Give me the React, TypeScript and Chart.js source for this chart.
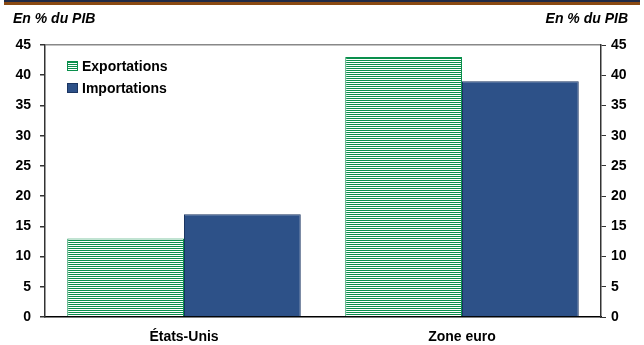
import React, { useEffect, useRef } from "react";
import { Chart, registerables } from "chart.js";

Chart.register(...registerables);

const categories = ["États-Unis", "Zone euro"];
const exportations = [13, 43];
const importations = [17, 39];
const seriesLabels = ["Exportations", "Importations"];
const unitLabel = "En % du PIB";
const yMin = 0;
const yMax = 45;
const yStep = 5;

const FONT = "'Liberation Sans', Arial, sans-serif";
const GREEN = "#0a8f4c";
const NAVY = "#2d5188";
const NAVY_BORDER = "#1b3562";

function makeStripe(): CanvasPattern | string {
  const c = document.createElement("canvas");
  c.width = 4;
  c.height = 2;
  const g = c.getContext("2d");
  if (!g) return GREEN;
  g.fillStyle = "#ffffff";
  g.fillRect(0, 0, 4, 2);
  g.fillStyle = GREEN;
  g.fillRect(0, 0, 4, 1);
  const p = g.createPattern(c, "repeat");
  return p || GREEN;
}

const decorPlugin = {
  id: "decor",
  afterDraw(chart: any) {
    const ctx = chart.ctx as CanvasRenderingContext2D;
    const w = chart.width;
    ctx.save();
    // top strip
    ctx.fillStyle = "#1f2b47";
    ctx.fillRect(4, 0, w - 8, 2);
    ctx.fillStyle = "#8a4a12";
    ctx.fillRect(4, 2, w - 8, 3);
    // unit labels
    ctx.fillStyle = "#000";
    ctx.font = `italic bold 14px ${FONT}`;
    ctx.textBaseline = "middle";
    ctx.textAlign = "left";
    ctx.fillText(unitLabel, 13, 19);
    ctx.textAlign = "right";
    ctx.fillText(unitLabel, 628, 19);
    // legend
    const items = [
      { label: seriesLabels[0], fill: chart.data.datasets[0].backgroundColor, border: GREEN, y: 66 },
      { label: seriesLabels[1], fill: NAVY, border: NAVY_BORDER, y: 88 },
    ];
    ctx.font = `bold 14px ${FONT}`;
    ctx.textAlign = "left";
    for (const it of items) {
      ctx.fillStyle = it.fill;
      ctx.fillRect(67, it.y - 5, 11, 10);
      ctx.strokeStyle = it.border;
      ctx.lineWidth = 1;
      ctx.strokeRect(67.5, it.y - 4.5, 10, 9);
      ctx.fillStyle = "#000";
      ctx.fillText(it.label, 82, it.y + 1);
    }
    ctx.restore();
  },
};

export default function App() {
  const ref = useRef<HTMLCanvasElement>(null);
  useEffect(() => {
    document.body.style.margin = "0";
    if (!ref.current) return;
    const stripe = makeStripe();
    const tickFont = { family: FONT, size: 14, weight: "bold" as const };
    const chart = new Chart(ref.current, {
      type: "bar",
      data: {
        labels: categories,
        datasets: [
          {
            label: seriesLabels[0],
            data: exportations,
            backgroundColor: stripe as any,
            borderColor: GREEN,
            borderWidth: 1,
            barPercentage: 1,
            categoryPercentage: 0.84,
            yAxisID: "y",
          },
          {
            label: seriesLabels[1],
            data: importations,
            backgroundColor: NAVY,
            borderColor: NAVY_BORDER,
            borderWidth: 1,
            barPercentage: 1,
            categoryPercentage: 0.84,
            yAxisID: "y",
          },
        ],
      },
      options: {
        responsive: false,
        animation: false,
        layout: { padding: { top: 45, left: 0, right: 0, bottom: 0 } },
        plugins: { legend: { display: false }, tooltip: { enabled: false }, title: { display: false } },
        scales: {
          x: {
            grid: { display: false },
            border: { display: true, color: "#000", width: 1.5 },
            ticks: { color: "#000", font: tickFont, padding: 4 },
            afterFit: (s: any) => { s.height = 28; },
          },
          y: {
            position: "left",
            min: yMin,
            max: yMax,
            ticks: { stepSize: yStep, color: "#000", font: tickFont, padding: 9 },
            grid: {
              color: (c: any) => (c.tick && c.tick.value === yMax ? "#888" : "rgba(0,0,0,0)"),
              tickColor: "#333",
              tickLength: 5,
              lineWidth: 1.5,
            },
            border: { display: true, color: "#333", width: 1.5 },
            afterFit: (s: any) => { s.width = 45; },
          },
          y2: {
            position: "right",
            min: yMin,
            max: yMax,
            ticks: { stepSize: yStep, color: "#000", font: tickFont, padding: 5 },
            grid: { drawOnChartArea: false, color: "#333", tickColor: "#333", tickLength: 5 },
            border: { display: true, color: "#333", width: 1.5 },
            afterFit: (s: any) => { s.width = 43; },
          },
        },
      },
      plugins: [decorPlugin],
    });
    return () => chart.destroy();
  }, []);
  return <canvas ref={ref} width={644} height={345} style={{ display: "block" }} />;
}
